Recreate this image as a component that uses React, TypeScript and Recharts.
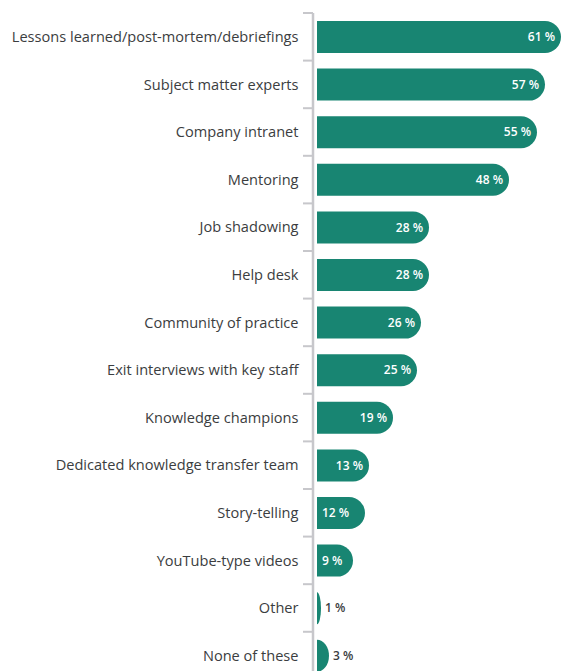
import { Bar, BarChart, LabelList, XAxis, YAxis } from "recharts"

const categories = [
  "Lessons learned/post-mortem/debriefings",
  "Subject matter experts",
  "Company intranet",
  "Mentoring",
  "Job shadowing",
  "Help desk",
  "Community of practice",
  "Exit interviews with key staff",
  "Knowledge champions",
  "Dedicated knowledge transfer team",
  "Story-telling",
  "YouTube-type videos",
  "Other",
  "None of these",
]

const shares = [61, 57, 55, 48, 28, 28, 26, 25, 19, 13, 12, 9, 1, 3]

const data = categories.map((name, i) => ({ name, value: shares[i] }))

const TEAL = "#188572"
const AXIS_GREY = "#c7c7cb"
const TEXT = "#3b3d40"
const BAND = 47.6
const FONT = "'Open Sans', 'Noto Sans', sans-serif"

function RoundedEnd(props: any) {
  const { x, y, width, height, fill } = props
  if (!width || width <= 0) return null
  const ry = height / 2
  const rx = Math.min(ry, width)
  const flat = x + width - rx
  const d = `M${x},${y} L${flat},${y} A${rx},${ry} 0 0 1 ${flat},${y + height} L${x},${y + height} Z`
  return <path d={d} fill={fill} />
}

function CategoryTick(props: any) {
  const { x, y, payload } = props
  const top = y - BAND / 2
  return (
    <g>
      <line x1={x - 10} x2={x} y1={top} y2={top} stroke={AXIS_GREY} strokeWidth={2} />
      <text
        x={x - 14.5}
        y={y}
        dy="0.35em"
        textAnchor="end"
        fill={TEXT}
        fontSize={14.6}
        fontFamily={FONT}
      >
        {payload.value}
      </text>
    </g>
  )
}

function ValueLabel(props: any) {
  const { x, y, width, height, value } = props
  const cy = y + height / 2
  const end = x + width
  const common = {
    y: cy,
    dy: "0.35em",
    fontSize: 12,
    fontWeight: 600,
    fontFamily: FONT,
  }
  if (value < 5) {
    return (
      <text {...common} x={end + 4} textAnchor="start" fill={TEXT}>
        {value} %
      </text>
    )
  }
  if (value < 13) {
    return (
      <text {...common} x={x + 5} textAnchor="start" fill="#ffffff">
        {value} %
      </text>
    )
  }
  return (
    <text {...common} x={end - 6} textAnchor="end" fill="#ffffff">
      {value} %
    </text>
  )
}

export default function App() {
  return (
    <div
      style={{
        position: "absolute",
        left: 0,
        top: 0,
        width: 561,
        height: 671,
        overflow: "hidden",
        background: "#ffffff",
      }}
    >
      <BarChart
        width={593}
        height={13 + BAND * categories.length}
        data={data}
        layout="vertical"
        margin={{ top: 13, right: 0, bottom: 0, left: 0 }}
      >
        <XAxis type="number" domain={[-1, 69]} hide allowDataOverflow />
        <YAxis
          type="category"
          dataKey="name"
          width={313}
          axisLine={{ stroke: AXIS_GREY, strokeWidth: 2.5 }}
          tickLine={false}
          tickSize={0}
          tickMargin={0}
          interval={0}
          tick={<CategoryTick />}
        />
        <Bar
          dataKey="value"
          fill={TEAL}
          barSize={32}
          shape={<RoundedEnd />}
          isAnimationActive={false}
        >
          <LabelList dataKey="value" content={<ValueLabel />} />
        </Bar>
      </BarChart>
    </div>
  )
}
